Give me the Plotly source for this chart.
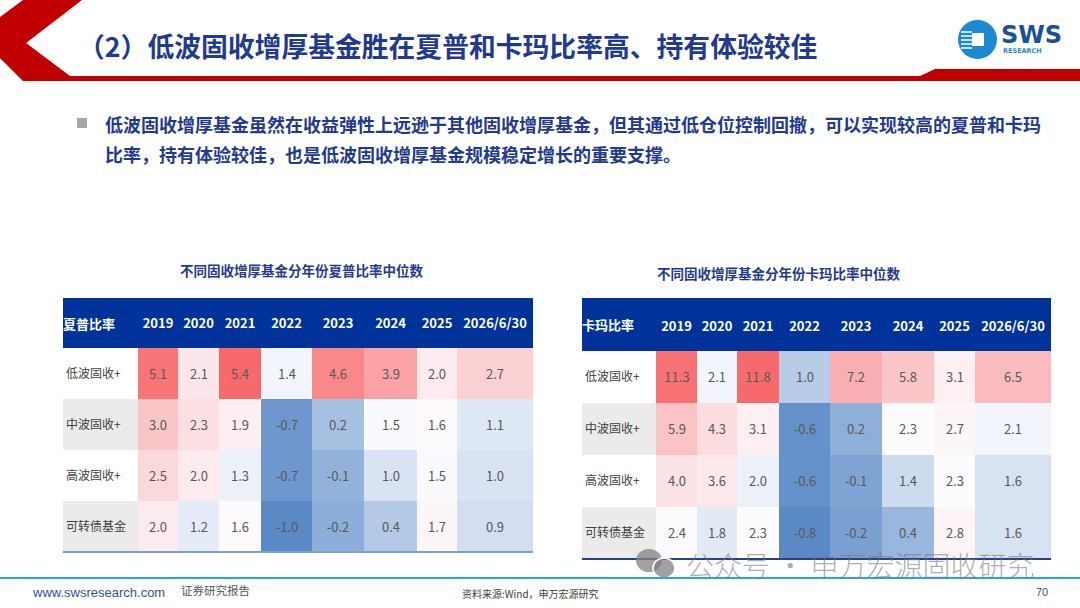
import numpy as np
import plotly.graph_objects as go

W, H = 1080, 608

# data
years = ["2019", "2020", "2021", "2022", "2023", "2024", "2025", "2026/6/30"]
fund_types = ["低波固收+", "中波固收+", "高波固收+", "可转债基金"]

sharpe = [
    [5.1, 2.1, 5.4, 1.4, 4.6, 3.9, 2.0, 2.7],
    [3.0, 2.3, 1.9, -0.7, 0.2, 1.5, 1.6, 1.1],
    [2.5, 2.0, 1.3, -0.7, -0.1, 1.0, 1.5, 1.0],
    [2.0, 1.2, 1.6, -1.0, -0.2, 0.4, 1.7, 0.9],
]
calmar = [
    [11.3, 2.1, 11.8, 1.0, 7.2, 5.8, 3.1, 6.5],
    [5.9, 4.3, 3.1, -0.6, 0.2, 2.3, 2.7, 2.1],
    [4.0, 3.6, 2.0, -0.6, -0.1, 1.4, 2.3, 1.6],
    [2.4, 1.8, 2.3, -0.8, -0.2, 0.4, 2.8, 1.6],
]

FONT = "Noto Sans CJK SC"
NAVY = "#1f3a8f"
HEAD_BLUE = "#003399"


def px(x):
    return x / W


def py(y):
    return 1 - y / H


fig = go.Figure()
shapes = []
annotations = []


def add_table(z, corner, title, box, col_w, line_color, line_y, n):
    """Excel-style 3-colour heatmap table, box = (x0, x1, head_top, head_bot, body_bot) in px"""
    x0, x1, head_top, head_bot, body_bot = box
    xa = "x" if n == 1 else "x%d" % n
    ya = "y" if n == 1 else "y%d" % n
    edges = np.cumsum([0] + col_w)
    centers = (edges[1:-1] + edges[2:]) / 2

    arr = np.array(z)
    lo, hi, mid = arr.min(), arr.max(), np.median(arr)
    stop = (mid - lo) / (hi - lo)
    scale = [[0, "#5A8AC6"], [stop, "#FCFCFF"], [1, "#F8696B"]]

    fig.add_trace(go.Heatmap(
        z=z, x=edges[1:], y=fund_types,
        zmin=lo, zmax=hi, colorscale=scale, showscale=False,
        text=[[f"{v:.1f}" for v in row] for row in z],
        texttemplate="%{text}",
        textfont=dict(size=13, color="#595959", family=FONT),
        xaxis=xa, yaxis=ya, hoverinfo="skip",
    ))

    lay = {}
    lay["xaxis" if n == 1 else "xaxis%d" % n] = dict(
        domain=[px(x0), px(x1)], range=[0, edges[-1]], side="top",
        tickvals=centers, ticktext=years, ticks="", ticklabelstandoff=16,
        tickfont=dict(size=13, color="white", family=FONT, weight="bold"),
        showgrid=False, zeroline=False, showline=False, anchor=ya,
    )
    lay["yaxis" if n == 1 else "yaxis%d" % n] = dict(
        domain=[py(body_bot), py(head_bot)], type="category",
        categoryarray=fund_types, range=[3.5, -0.5],
        ticklabelposition="inside", ticks="",
        tickfont=dict(size=12, color="#404040", family=FONT),
        showgrid=False, zeroline=False, showline=False, anchor=xa,
    )
    fig.update_layout(**lay)

    # grey label cells on rows 2 and 4
    for r in (1, 3):
        shapes.append(dict(type="rect", xref=xa, yref=ya, x0=0, x1=col_w[0],
                           y0=r - 0.5, y1=r + 0.5, fillcolor="#ebebeb",
                           line_width=0, layer="below"))
    # header band
    shapes.append(dict(type="rect", xref="paper", yref="paper",
                       x0=px(x0), x1=px(x1), y0=py(head_bot), y1=py(head_top),
                       fillcolor=HEAD_BLUE, line_width=0, layer="below"))
    shapes.append(dict(type="line", xref="paper", yref="paper",
                       x0=px(x0), x1=px(x1), y0=py(line_y), y1=py(line_y),
                       line=dict(color=line_color, width=2)))
    annotations.append(dict(x=px(x0 - 2), y=py((head_top + head_bot) / 2),
                            xref="paper", yref="paper", xanchor="left", yanchor="middle",
                            text=corner, showarrow=False,
                            font=dict(size=13, color="white", family=FONT, weight="bold")))
    annotations.append(dict(x=px((x0 + x1) / 2 + title[1]), y=py(title[2]),
                            xref="paper", yref="paper", xanchor="center", yanchor="middle",
                            text=title[0], showarrow=False,
                            font=dict(size=13.5, color=NAVY, family=FONT, weight="bold")))


add_table(sharpe, "夏普比率", ("不同固收增厚基金分年份夏普比率中位数", 3, 270),
          (63, 533, 298, 348, 552), [75, 40, 41, 42, 51, 52, 53, 40, 76],
          "#7f9fd4", 552, 1)
add_table(calmar, "卡玛比率", ("不同固收增厚基金分年份卡玛比率中位数", -38, 273),
          (582, 1051, 298, 351, 559), [74, 41, 40, 42, 51, 52, 52, 41, 76],
          "#2b3f86", 559, 2)

# red header decoration
pts = [(23, 0), (82, 0), (26, 43), (70, 76), (920, 76), (935, 69), (1080, 69),
       (1080, 81), (23, 81), (0, 58), (0, 17)]
path = "M " + " L ".join(f"{px(a):.4f},{py(b):.4f}" for a, b in pts) + " Z"
shapes.append(dict(type="path", xref="paper", yref="paper", path=path,
                   fillcolor="#c00000", line_width=0))

# SWS logo
shapes.append(dict(type="circle", xref="paper", yref="paper",
                   x0=px(958), x1=px(997), y0=py(59), y1=py(20),
                   fillcolor="#1b8ad3", line_width=0))
for yy in (32, 36, 40, 44, 48):
    shapes.append(dict(type="line", xref="paper", yref="paper",
                       x0=px(961), x1=px(972), y0=py(yy), y1=py(yy),
                       line=dict(color="white", width=1.5)))
shapes.append(dict(type="rect", xref="paper", yref="paper",
                   x0=px(972), x1=px(984), y0=py(46), y1=py(33),
                   fillcolor="white", line_width=0))
annotations.append(dict(x=px(999), y=py(35), xref="paper", yref="paper",
                        xanchor="left", yanchor="middle", text="SWS", showarrow=False,
                        font=dict(size=24, color="#1a4f9c", family="DejaVu Sans", weight="bold")))
annotations.append(dict(x=px(1001), y=py(51), xref="paper", yref="paper",
                        xanchor="left", yanchor="middle", text="RESEARCH", showarrow=False,
                        font=dict(size=6.5, color="#2a8ad0", family="DejaVu Sans", weight="bold")))

# slide title and bullet
annotations.append(dict(x=px(76), y=py(45), xref="paper", yref="paper",
                        xanchor="left", yanchor="middle", showarrow=False,
                        text="（2）低波固收增厚基金胜在夏普和卡玛比率高、持有体验较佳",
                        font=dict(size=26.8, color=NAVY, family=FONT, weight="bold")))
shapes.append(dict(type="rect", xref="paper", yref="paper",
                   x0=px(77), x1=px(87), y0=py(128), y1=py(118),
                   fillcolor="#a6a6a6", line_width=0))
bullet_lines = [
    "低波固收增厚基金虽然在收益弹性上远逊于其他固收增厚基金，但其通过低仓位控制回撤，可以实现较高的夏普和卡玛",
    "比率，持有体验较佳，也是低波固收增厚基金规模稳定增长的重要支撑。",
]
for i, line in enumerate(bullet_lines):
    annotations.append(dict(x=px(103), y=py(124 + 30 * i), xref="paper", yref="paper",
                            xanchor="left", yanchor="middle", showarrow=False, text=line,
                            font=dict(size=18, color=NAVY, family=FONT, weight="bold")))

# watermark
shapes.append(dict(type="circle", xref="paper", yref="paper",
                   x0=px(636), x1=px(662), y0=py(572), y1=py(549),
                   fillcolor="rgba(130,130,130,0.75)", line_width=0))
shapes.append(dict(type="circle", xref="paper", yref="paper",
                   x0=px(653), x1=px(675), y0=py(578), y1=py(558),
                   fillcolor="rgba(130,130,130,0.75)", line=dict(color="white", width=1.5)))
annotations.append(dict(x=px(684), y=py(565), xref="paper", yref="paper",
                        xanchor="left", yanchor="middle", showarrow=False,
                        text="公众号 · 申万宏源固收研究",
                        font=dict(size=28, color="rgba(120,120,120,0.6)", family=FONT,
                                  weight=300)))

# footer
shapes.append(dict(type="line", xref="paper", yref="paper",
                   x0=0, x1=1, y0=py(578), y1=py(578),
                   line=dict(color="#22a7e0", width=2)))
annotations.append(dict(x=px(30), y=py(592), xref="paper", yref="paper",
                        xanchor="left", yanchor="middle", showarrow=False,
                        text="www.swsresearch.com",
                        font=dict(size=13, color="#2f4fa0", family="Liberation Sans")))
annotations.append(dict(x=px(179), y=py(590), xref="paper", yref="paper",
                        xanchor="left", yanchor="middle", showarrow=False,
                        text="证券研究报告", font=dict(size=11.5, color="#555555", family=FONT)))
annotations.append(dict(x=px(530), y=py(593), xref="paper", yref="paper",
                        xanchor="center", yanchor="middle", showarrow=False,
                        text="资料来源:Wind，申万宏源研究",
                        font=dict(size=10, color="#404040", family=FONT)))
annotations.append(dict(x=px(1050), y=py(592), xref="paper", yref="paper",
                        xanchor="right", yanchor="middle", showarrow=False,
                        text="70", font=dict(size=11, color="#2f4fa0", family="Liberation Sans")))

fig.update_layout(
    width=W, height=H,
    margin=dict(l=0, r=0, t=0, b=0),
    paper_bgcolor="white", plot_bgcolor="white",
    showlegend=False,
    shapes=shapes, annotations=annotations,
    font=dict(family=FONT),
)

# the page body has an 8px default margin; drop it so the slide fills the window
fig.write_html("out.html", config={"displayModeBar": False},
               post_script="document.body.style.margin='0';")
